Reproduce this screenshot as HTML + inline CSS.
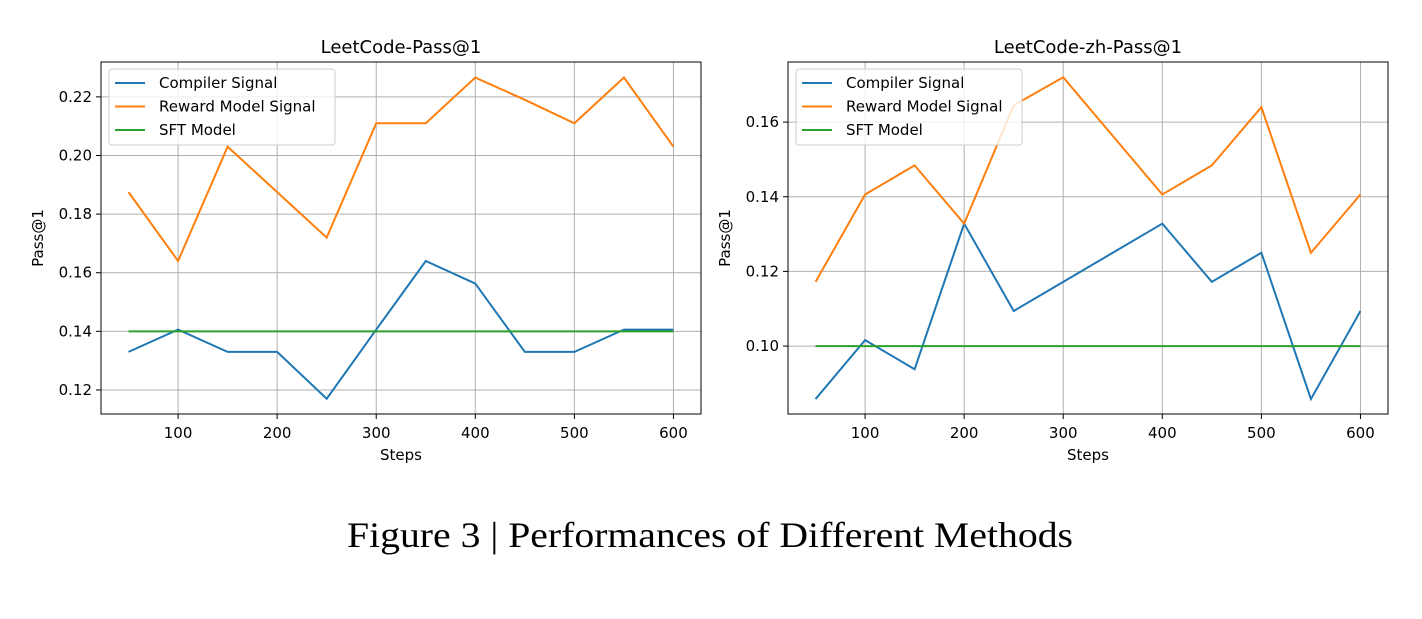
<!DOCTYPE html>
<html><head><meta charset="utf-8">
<style>
body{margin:0;background:#fff;}
svg text{font-family:"DejaVu Sans","Liberation Sans",sans-serif;fill:#000;}
</style></head>
<body>
<svg id="fig" width="1422" height="614" xmlns="http://www.w3.org/2000/svg">
<text x="347" y="547" textLength="726" lengthAdjust="spacingAndGlyphs" style="font-family:'Liberation Serif',serif;font-size:36px">Figure 3 | Performances of Different Methods</text>
</svg>
<script>
const steps=[50,100,150,200,250,300,350,400,450,500,550,600];
const leftCompiler=[0.133,0.1406,0.133,0.133,0.117,0.1406,0.164,0.1563,0.133,0.133,0.1406,0.1406];
const leftReward=[0.1875,0.164,0.203,0.1875,0.172,0.211,0.211,0.2266,0.219,0.211,0.2266,0.203];
const leftSFT=[0.14,0.14,0.14,0.14,0.14,0.14,0.14,0.14,0.14,0.14,0.14,0.14];
const leftYTicks=[0.12,0.14,0.16,0.18,0.20,0.22];
const rightCompiler=[0.0858,0.1016,0.0938,0.1328,0.1094,0.1172,0.125,0.1328,0.1172,0.125,0.0858,0.1094];
const rightReward=[0.1172,0.1406,0.1484,0.1328,0.1645,0.172,0.1563,0.1406,0.1484,0.164,0.125,0.1406];
const rightSFT=[0.10,0.10,0.10,0.10,0.10,0.10,0.10,0.10,0.10,0.10,0.10,0.10];
const rightYTicks=[0.10,0.12,0.14,0.16];
const xTicks=[100,200,300,400,500,600];
const seriesNames=["Compiler Signal","Reward Model Signal","SFT Model"];
const colors=["#1f77b4","#ff7f0e","#2ca02c"];
const NS="http://www.w3.org/2000/svg";
const svg=document.getElementById('fig');
function mk(tag,attrs,parent){const e=document.createElementNS(NS,tag);for(const k in attrs)e.setAttribute(k,attrs[k]);(parent||svg).appendChild(e);return e;}
function chart(prefix,L,T,W,H,ymin,ymax,yTicks,series,title){
  const g=mk('g',{});
  
  
  const xs=s=>L+(s-22.2)/(627.8-22.2)*W;
  const ys=v=>T+H-(v-ymin)/(ymax-ymin)*H;
  xTicks.forEach(t=>{const x=xs(t);
    const l=mk('line',{x1:x,x2:x,y1:T,y2:T+H,stroke:'#b0b0b0','stroke-width':1},g);
    
    mk('line',{x1:x,x2:x,y1:T+H,y2:T+H+5,stroke:'#000'},g);
    const tx=mk('text',{x:x,y:T+H+24,'text-anchor':'middle','font-size':15},g);tx.textContent=t;
    });
  yTicks.forEach(t=>{const y=ys(t);
    const l=mk('line',{x1:L,x2:L+W,y1:y,y2:y,stroke:'#b0b0b0','stroke-width':1},g);
    
    mk('line',{x1:L-5,x2:L,y1:y,y2:y,stroke:'#000'},g);
    const tx=mk('text',{x:L-9,y:y+5,'text-anchor':'end','font-size':15},g);tx.textContent=t.toFixed(2);
    });
  series.forEach((d,i)=>{
    const p=mk('polyline',{points:d.map((v,j)=>xs(steps[j])+','+ys(v)).join(' '),fill:'none',stroke:colors[i],'stroke-width':2},g);
    
    });
  const fr=mk('rect',{x:L,y:T,width:W,height:H,fill:'none',stroke:'#000','stroke-width':1},g);
  
  const tt=mk('text',{x:L+W/2,y:T-9,'text-anchor':'middle','font-size':18},g);tt.textContent=title;
  
  const xl=mk('text',{x:L+W/2,y:T+H+46,'text-anchor':'middle','font-size':15},g);xl.textContent='Steps';
  
  const yl=mk('text',{x:0,y:0,'text-anchor':'middle','font-size':15,transform:`translate(${L-58},${T+H/2}) rotate(-90)`},g);yl.textContent='Pass@1';
  
  const lg=mk('g',{},g);
  
  mk('rect',{x:L+8,y:T+7,width:226,height:76,fill:'#fff','fill-opacity':0.8,stroke:'#ccc',rx:3},lg);
  seriesNames.forEach((n,i)=>{const y=T+21+i*23.5;
    mk('line',{x1:L+14,x2:L+44,y1:y,y2:y,stroke:colors[i],'stroke-width':2},lg);
    const t=mk('text',{x:L+58,y:y+5,'font-size':15},lg);t.textContent=n;
    });
}
chart('left',101,62,600,352,0.1118,0.2319,leftYTicks,[leftCompiler,leftReward,leftSFT],'LeetCode-Pass@1');
chart('right',788,62,600,352,0.0818,0.1761,rightYTicks,[rightCompiler,rightReward,rightSFT],'LeetCode-zh-Pass@1');
</script>
</body></html>
